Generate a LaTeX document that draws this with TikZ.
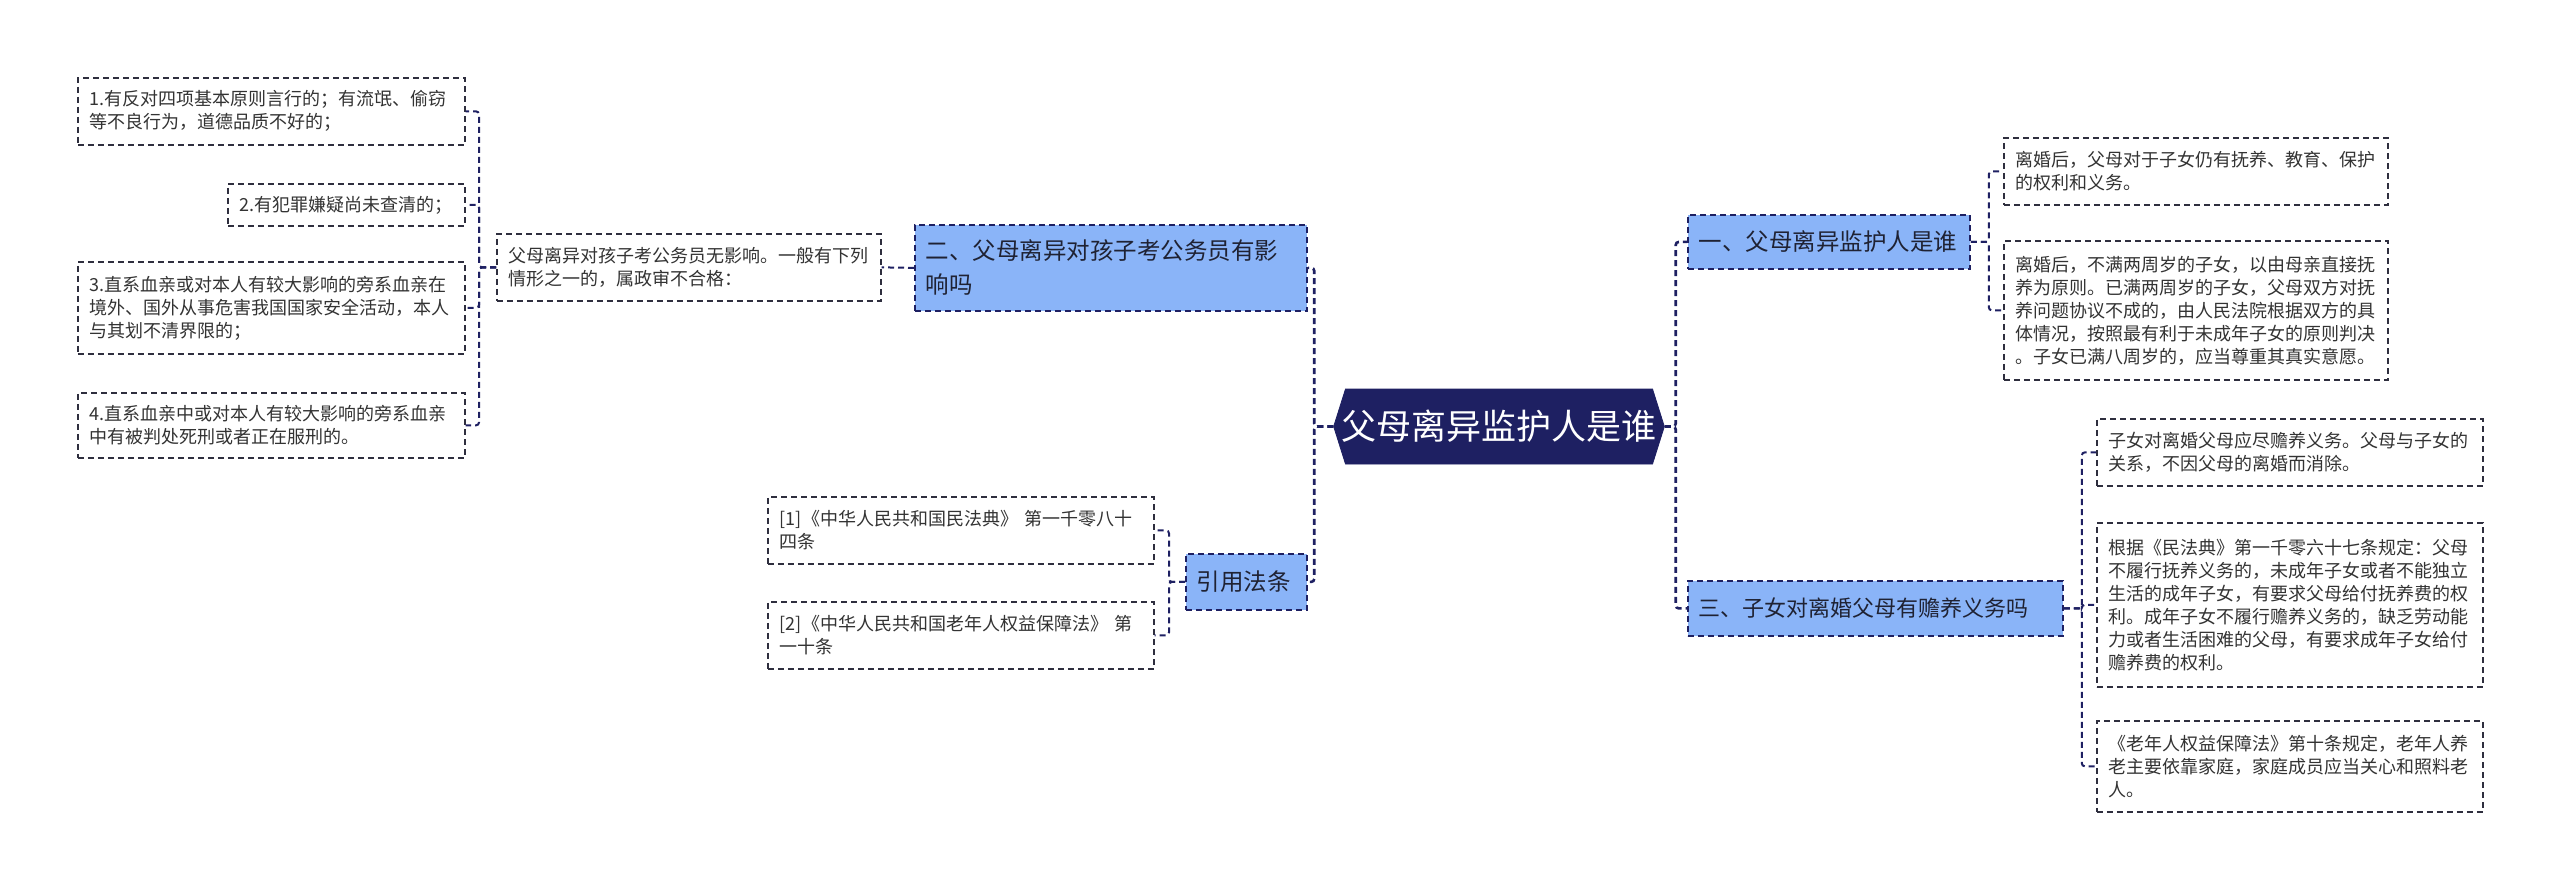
\documentclass[tikz,border=0pt]{standalone}
\usepackage{fontspec}
\setmainfont{Noto Sans CJK SC}
\usetikzlibrary{shapes.symbols}
\definecolor{MMNavy}{HTML}{1E2062}
\definecolor{MMBlue}{HTML}{8AB4F8}
\definecolor{MMInk}{HTML}{1F2233}
\definecolor{MMText}{HTML}{333333}
\definecolor{MMLeafLine}{HTML}{2E2E3E}

\begin{document}
\begin{tikzpicture}[x=0.5pt,y=-0.5pt,
      root/.style={signal,signal to=west and east,signal pointer angle=145,
        fill=MMNavy,draw=MMNavy,text=white,font=\fontsize{17.5}{20}\selectfont,
        minimum height=37.5pt,inner xsep=-2pt,inner ysep=0pt},
      branch/.style={draw=MMNavy,dash pattern=on 3pt off 2pt,line width=.9pt,
        fill=MMBlue,text=MMInk,font=\fontsize{11.75}{17}\selectfont,
        align=left,inner xsep=5.5pt,inner ysep=0pt,anchor=north west},
      leaf/.style={draw=MMLeafLine,dash pattern=on 3pt off 2pt,line width=.85pt,
        fill=white,text=MMText,font=\fontsize{9}{11.5}\selectfont,
        align=left,inner xsep=6pt,inner ysep=0pt,anchor=north west},
      link/.style={MMNavy,line width=1.3pt,dash pattern=on 3pt off 2pt,rounded corners=1.5pt},
      twig/.style={link,line width=1pt}
    ]
      \useasboundingbox (0,0) rectangle (2560,889);
      % centre
      \node[root] (root) at (1499,426.5) {父母离异监护人是谁};
      % left side
      \node[branch,text width=185pt,minimum height=43pt] (exam) at (914,224)
        {二、父母离异对孩子考公务员有影\\响吗};
      \node[leaf,text width=180pt,minimum height=33.5pt] (examnote) at (496,233)
        {父母离异对孩子考公务员无影响。一般有下列\\情形之一的，属政审不合格：};
      \node[leaf,text width=181.5pt,minimum height=33.5pt] (cond1) at (77,77)
        {1.有反对四项基本原则言行的；有流氓、偷窃\\等不良行为，道德品质不好的；};
      \node[leaf,text width=106.5pt,minimum height=21pt] (cond2) at (227,183)
        {2.有犯罪嫌疑尚未查清的；};
      \node[leaf,text width=181.5pt,minimum height=46pt] (cond3) at (77,261)
        {3.直系血亲或对本人有较大影响的旁系血亲在\\境外、国外从事危害我国国家安全活动，本人\\与其划不清界限的；};
      \node[leaf,text width=181.5pt,minimum height=32.5pt] (cond4) at (77,392)
        {4.直系血亲中或对本人有较大影响的旁系血亲\\中有被判处死刑或者正在服刑的。};
      \node[branch,text width=49.5pt,minimum height=28pt] (cite) at (1185,553) {引用法条};
      \node[leaf,text width=181pt,minimum height=33.5pt] (cite1) at (767,496)
        {[1]《中华人民共和国民法典》 第一千零八十\\四条};
      \node[leaf,text width=181pt,minimum height=33.5pt] (cite2) at (767,601)
        {[2]《中华人民共和国老年人权益保障法》 第\\一十条};
      % right side
      \node[branch,text width=130pt,minimum height=27pt] (guard) at (1687,214)
        {一、父母离异监护人是谁};
      \node[leaf,text width=180pt,minimum height=33.5pt] (guard1) at (2003,137)
        {离婚后，父母对于子女仍有抚养、教育、保护\\的权利和义务。};
      \node[leaf,text width=180pt,minimum height=69.5pt] (guard2) at (2003,240)
        {离婚后，不满两周岁的子女，以由母亲直接抚\\养为原则。已满两周岁的子女，父母双方对抚\\养问题协议不成的，由人民法院根据双方的具\\体情况，按照最有利于未成年子女的原则判决\\。子女已满八周岁的，应当尊重其真实意愿。};
      \node[branch,font=\fontsize{11}{16}\selectfont,text width=176.5pt,minimum height=27.5pt] (care) at (1687,580)
        {三、子女对离婚父母有赡养义务吗};
      \node[leaf,text width=181pt,minimum height=33.5pt] (care1) at (2096,418)
        {子女对离婚父母应尽赡养义务。父母与子女的\\关系，不因父母的离婚而消除。};
      \node[leaf,text width=181pt,minimum height=82pt] (care2) at (2096,522)
        {根据《民法典》第一千零六十七条规定：父母\\不履行抚养义务的，未成年子女或者不能独立\\生活的成年子女，有要求父母给付抚养费的权\\利。成年子女不履行赡养义务的，缺乏劳动能\\力或者生活困难的父母，有要求成年子女给付\\赡养费的权利。};
      \node[leaf,text width=181pt,minimum height=45.5pt] (care3) at (2096,720)
        {《老年人权益保障法》第十条规定，老年人养\\老主要依靠家庭，家庭成员应当关心和照料老\\人。};
      % connectors
      \draw[link] (root.west) -- ++(-19,0) |- (exam.east);
      \draw[link] (root.west) -- ++(-19,0) |- (cite.east);
      \draw[link] (root.east) -- ++(11,0) |- (guard.west);
      \draw[link] (root.east) -- ++(11,0) |- (care.west);
      \draw[twig] (exam.west) -- (examnote.east);
      \draw[twig] (examnote.west) -- ++(-17,0) |- (cond1.east);
      \draw[twig] (examnote.west) -- ++(-17,0) |- (cond2.east);
      \draw[twig] (examnote.west) -- ++(-17,0) |- (cond3.east);
      \draw[twig] (examnote.west) -- ++(-17,0) |- (cond4.east);
      \draw[twig] (cite.west) -- ++(-16,0) |- (cite1.east);
      \draw[twig] (cite.west) -- ++(-16,0) |- (cite2.east);
      \draw[twig] (guard.east) -- ++(18,0) |- (guard1.west);
      \draw[twig] (guard.east) -- ++(18,0) |- (guard2.west);
      \draw[twig] (care.east) -- ++(18,0) |- (care1.west);
      \draw[twig] (care.east) -- ++(18,0) |- (care2.west);
      \draw[twig] (care.east) -- ++(18,0) |- (care3.west);
    \end{tikzpicture}
\end{document}
